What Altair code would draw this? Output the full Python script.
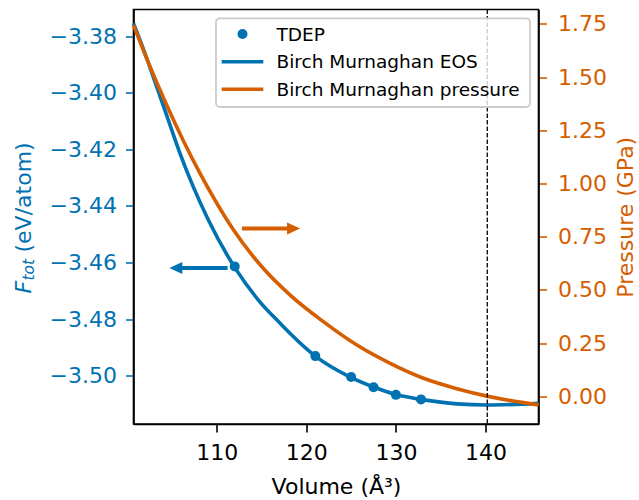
import altair as alt
import pandas as pd

BLUE = "#0072B2"
ORANGE = "#D55E00"
FONT = "DejaVu Sans"

# Birch-Murnaghan EOS curve
eos_volume = [100.70, 101.98, 103.29, 104.59, 105.90, 107.38, 109.06, 111.93, 114.64,
              117.07, 118.19, 121.00, 124.90, 127.60, 130.10, 132.80, 136.80, 140.16, 145.93]
eos_energy = [-3.3755, -3.3861, -3.3979, -3.4097, -3.4215, -3.4333, -3.4450, -3.4614, -3.4733,
              -3.4815, -3.4851, -3.4931, -3.5005, -3.5041, -3.5068, -3.5084, -3.5100, -3.5104, -3.5098]

# Birch-Murnaghan pressure curve
p_volume = [100.70, 102.54, 104.39, 106.29, 108.13, 111.76, 115.28, 118.19, 121.90,
            125.64, 129.36, 133.08, 136.81, 140.16, 145.93]
p_gpa = [1.745, 1.550, 1.370, 1.199, 1.048, 0.789, 0.597, 0.476, 0.351,
         0.241, 0.155, 0.085, 0.036, 0.001, -0.040]

# TDEP points
tdep_volume = [112.0, 121.0, 125.0, 127.5, 130.0, 132.8]
tdep_energy = [-3.4614, -3.4931, -3.5005, -3.5041, -3.5068, -3.5084]

# equilibrium volume (dashed line)
v0 = [140.2]

# annotation arrows: tail x, tip x, level
arrow_left = {"tail": [111.2], "tip": [104.7], "y": [-3.462]}
arrow_right = {"tail": [112.8], "tip": [119.3], "y": [0.789]}

x_ticks = [110, 120, 130, 140]
f_ticks = [-3.50, -3.48, -3.46, -3.44, -3.42, -3.40, -3.38]
p_ticks = [0.0, 0.25, 0.5, 0.75, 1.0, 1.25, 1.5, 1.75]

legend_labels = ["TDEP", "Birch Murnaghan EOS", "Birch Murnaghan pressure"]
ytitle_parts = ["F", "tot", "(eV/atom)"]
xtitle = "Volume (Å³)"
ptitle = "Pressure (GPa)"

xs = alt.Scale(domain=[100.7, 145.92], nice=False, zero=False)
ys_f = alt.Scale(domain=[-3.5171, -3.3706], nice=False, zero=False)
ys_p = alt.Scale(domain=[-0.130, 1.818], nice=False, zero=False)

x_axis = alt.Axis(values=x_ticks, format="d", title=xtitle, labelPadding=10, titlePadding=13,
                  labelColor="black", tickColor="black", titleColor="black")
f_axis = alt.Axis(orient="left", values=f_ticks, format=".2f", title=None,
                  labelColor=BLUE, tickColor=BLUE, labelPadding=9)
p_axis = alt.Axis(orient="right", values=p_ticks, format=".2f", title=ptitle,
                  labelColor=ORANGE, tickColor=ORANGE, titleColor=ORANGE,
                  titleAngle=270, titleBaseline="top", labelPadding=11, titlePadding=9)


def X(field):
    return alt.X(field, type="quantitative", scale=xs, axis=x_axis)


def YF(field):
    return alt.Y(field, type="quantitative", scale=ys_f, axis=f_axis)


def YP(field):
    return alt.Y(field, type="quantitative", scale=ys_p, axis=p_axis)


eos_df = pd.DataFrame({"v": eos_volume, "f": eos_energy})
p_df = pd.DataFrame({"v": p_volume, "p": p_gpa})
tdep_df = pd.DataFrame({"v": tdep_volume, "f": tdep_energy})
v0_df = pd.DataFrame({"v": v0})
al = pd.DataFrame(arrow_left)
al["shaft_end"] = al["tip"] + 1.0
ar = pd.DataFrame(arrow_right)
ar["shaft_end"] = ar["tip"] - 1.0

LW = 3.6

eos_line = alt.Chart(eos_df).mark_line(color=BLUE, strokeWidth=LW, interpolate="monotone").encode(
    x=X("v"), y=YF("f"))
tdep_pts = alt.Chart(tdep_df).mark_point(filled=True, color=BLUE, size=100, opacity=1).encode(
    x=X("v"), y=YF("f"))
al_shaft = alt.Chart(al).mark_rule(color=BLUE, strokeWidth=4).encode(
    x=X("tail"), x2="shaft_end", y=YF("y"))
al_head = alt.Chart(al).mark_point(shape="M0,0L2,-0.92L2,0.92Z", filled=True, color=BLUE,
                                   size=169, opacity=1).encode(x=X("tip"), y=YF("y"))

title_f = alt.Chart(pd.DataFrame({"t": [ytitle_parts[0]]})).mark_text(
    angle=270, align="left", baseline="alphabetic", font=FONT, fontSize=22, fontStyle="italic",
    color=BLUE).encode(text="t:N", x=alt.value(-103), y=alt.value(284))
title_sub = alt.Chart(pd.DataFrame({"t": [ytitle_parts[1]]})).mark_text(
    angle=270, align="left", baseline="alphabetic", font=FONT, fontSize=15.4, fontStyle="italic",
    color=BLUE).encode(text="t:N", x=alt.value(-100), y=alt.value(271))
title_unit = alt.Chart(pd.DataFrame({"t": [ytitle_parts[2]]})).mark_text(
    angle=270, align="left", baseline="alphabetic", font=FONT, fontSize=22,
    color=BLUE).encode(text="t:N", x=alt.value(-103), y=alt.value(243))

left = alt.layer(eos_line, tdep_pts, al_shaft, al_head, title_f, title_sub, title_unit)

p_line = alt.Chart(p_df).mark_line(color=ORANGE, strokeWidth=LW, interpolate="monotone").encode(
    x=X("v"), y=YP("p"))
ar_shaft = alt.Chart(ar).mark_rule(color=ORANGE, strokeWidth=4).encode(
    x=X("tail"), x2="shaft_end", y=YP("y"))
ar_head = alt.Chart(ar).mark_point(shape="M0,0L-2,-0.92L-2,0.92Z", filled=True, color=ORANGE,
                                   size=169, opacity=1).encode(x=X("tip"), y=YP("y"))
v0_rule = alt.Chart(v0_df).mark_rule(color="black", strokeWidth=1.3, strokeDash=[4.5, 2]).encode(
    x=X("v"))

# legend box and entries
leg_box = alt.Chart(pd.DataFrame({"a": [0]})).mark_rect(
    fill="white", fillOpacity=0.8, stroke="#cccccc", strokeWidth=1.8, cornerRadius=4).encode(
    x=alt.value(82.5), x2=alt.value(396.5), y=alt.value(8.8), y2=alt.value(97.5))
leg_pt = alt.Chart(pd.DataFrame({"a": [0]})).mark_point(
    filled=True, color=BLUE, size=100, opacity=1).encode(x=alt.value(109), y=alt.value(24.5))
leg_l1 = alt.Chart(pd.DataFrame({"a": [0]})).mark_rule(color=BLUE, strokeWidth=LW).encode(
    x=alt.value(88.2), x2=alt.value(129.8), y=alt.value(52.2))
leg_l2 = alt.Chart(pd.DataFrame({"a": [0]})).mark_rule(color=ORANGE, strokeWidth=LW).encode(
    x=alt.value(88.2), x2=alt.value(129.8), y=alt.value(79.8))
leg_texts = []
for lab, yy in zip(legend_labels, [31.2, 58.8, 86.5]):
    leg_texts.append(alt.Chart(pd.DataFrame({"t": [lab]})).mark_text(
        align="left", baseline="alphabetic", font=FONT, fontSize=18.5, color="black").encode(
        text="t:N", x=alt.value(143), y=alt.value(yy)))

right = alt.layer(p_line, ar_shaft, ar_head, v0_rule, leg_box, leg_pt, leg_l1, leg_l2, *leg_texts)

chart = alt.layer(left, right).resolve_scale(y="independent").properties(
    width=405, height=414.5,
    padding={"left": 133.5, "top": 9.5, "right": 100.5, "bottom": 76},
    autosize=alt.AutoSizeParams(type="none"),
    background="white",
).configure_view(stroke="black", strokeWidth=1.6).configure_axis(
    labelFont=FONT, labelFontSize=22, titleFont=FONT, titleFontSize=22, titleFontWeight="normal",
    tickSize=8, tickWidth=1.6, domainColor="black", domainWidth=1.6, grid=False,
)

chart.save("out.html", embed_options={"renderer": "svg", "actions": False})
